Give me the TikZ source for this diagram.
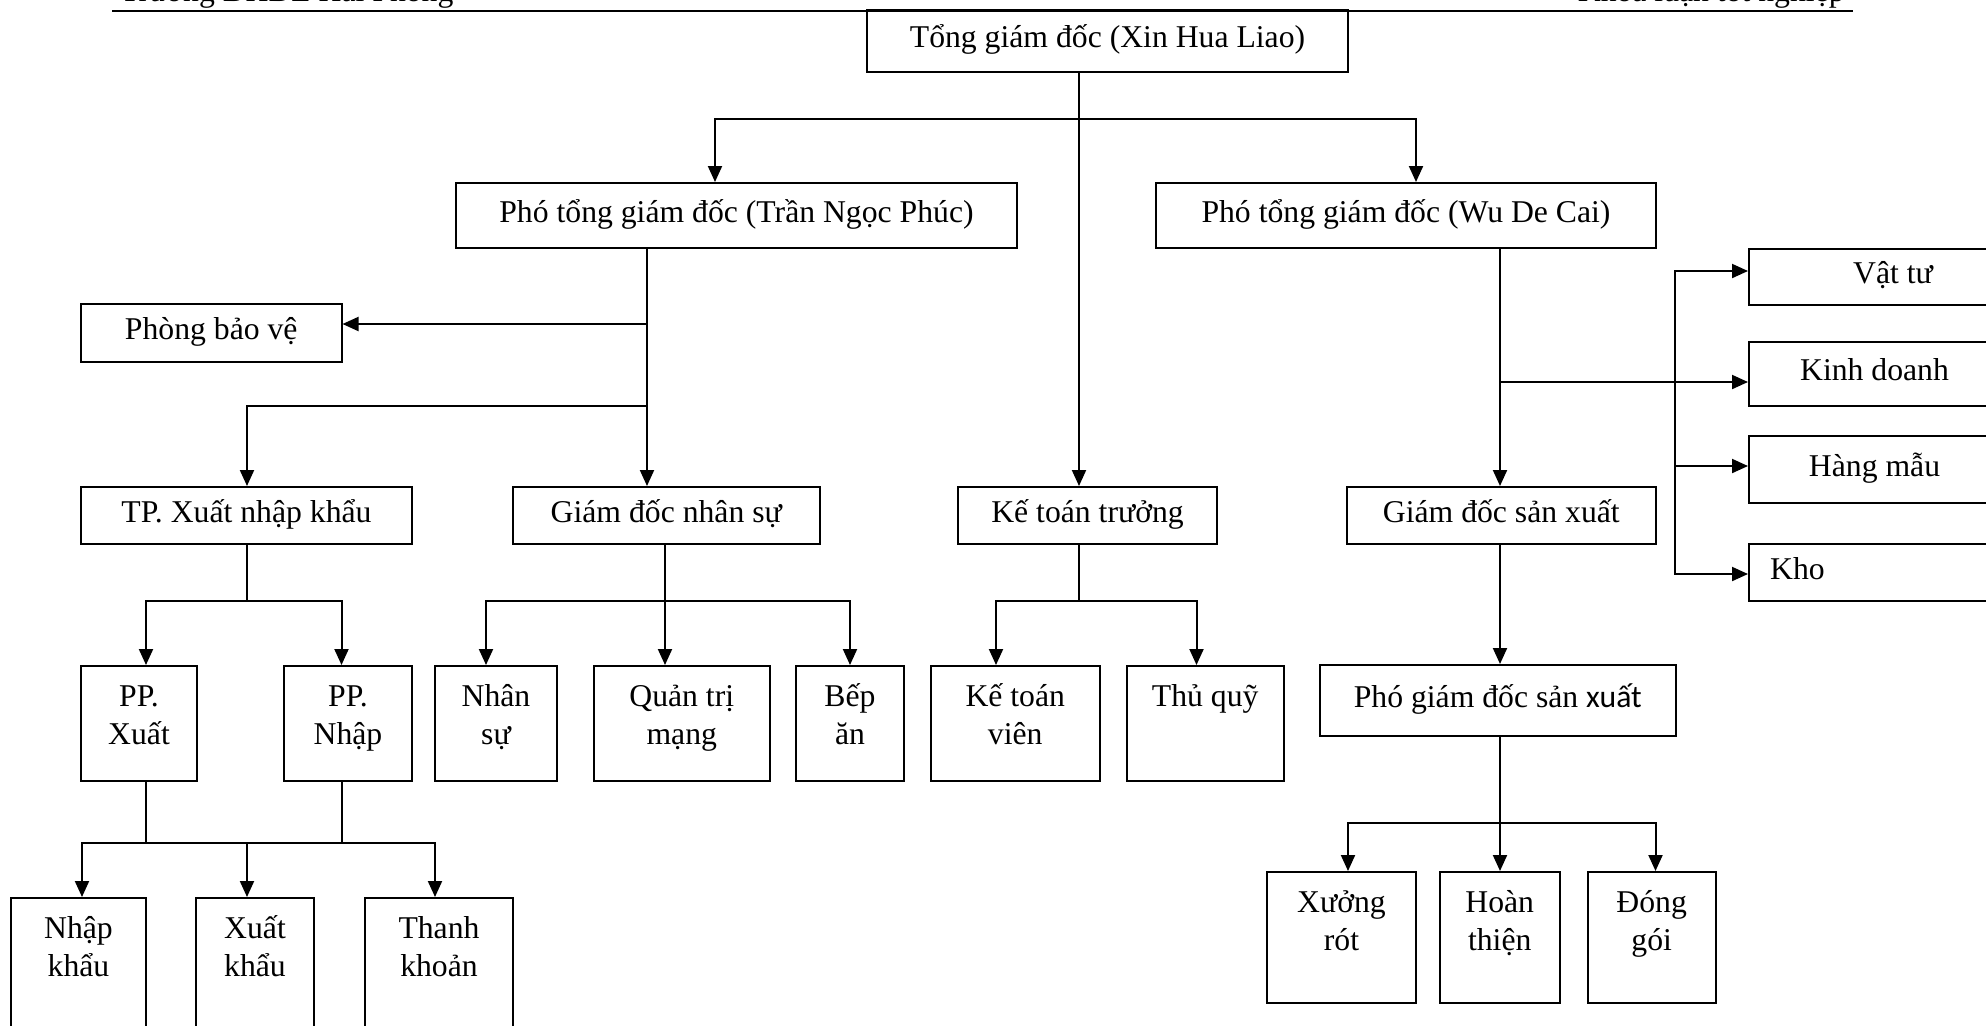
\documentclass[tikz,border=0pt]{standalone}
\usepackage{fontspec}
\setmainfont{Liberation Serif}
\newfontfamily\xsans{Carlito}
\usetikzlibrary{arrows.meta}
\newcommand\cellstack[1]{\begin{tabular}[t]{@{}c@{}}#1\end{tabular}}
\begin{document}
\begin{tikzpicture}[x=0.5pt, y=-0.5pt,
  font=\fontsize{15.85pt}{19pt}\selectfont,
  line/.style={line width=1pt},
  arr/.style={line width=1pt, -{Triangle[length=8pt,width=7pt]}},
  cell/.style={draw, line width=1pt, inner sep=0pt, text height=0.9em, text depth=0.24em},
  tall/.style={draw, line width=1pt, inner sep=0pt, anchor=north, text height=20pt},
]
\begin{scope}
\clip (0,0) rectangle (1986,1025);

% page header
\node[anchor=base west, inner sep=0pt] (hdrl) at (120,1) {Trường ĐHDL Hải Phòng};
\node[anchor=base east, inner sep=0pt] (hdrr) at (1845,1) {Khoá luận tốt nghiệp};
\coordinate (h1) at (112,10.5);
\coordinate (h2) at (1853,10.5);
\draw[line] (h1) -- (h2);

% management levels
\node[cell, minimum width=240.5pt, minimum height=31pt] (tgd) at (1107.5,41) {Tổng giám đốc (Xin Hua Liao)};
\node[cell, minimum width=280.5pt, minimum height=32.5pt] (ptgd1) at (736.5,215.5) {Phó tổng giám đốc (Trần Ngọc Phúc)};
\node[cell, minimum width=250pt, minimum height=32.5pt] (ptgd2) at (1406,215.5) {Phó tổng giám đốc (Wu De Cai)};
\node[cell, minimum width=130.25pt, minimum height=29pt] (pbv) at (211.25,333) {Phòng bảo vệ};
\node[cell, minimum width=165.5pt, minimum height=28.5pt] (tp) at (246.5,515.5) {TP. Xuất nhập khẩu};
\node[cell, minimum width=153.25pt, minimum height=28.5pt] (gdns) at (666.25,515.5) {Giám đốc nhân sự};
\node[cell, minimum width=129.5pt, minimum height=28.5pt] (ktt) at (1087.5,515.5) {Kế toán trưởng};
\node[cell, minimum width=154.3pt, minimum height=28.5pt] (gdsx) at (1501.3,515.5) {Giám đốc sản xuất};

% departments on the right
\node[cell, minimum width=125.5pt, minimum height=28pt] (vattu) at (1874.5,277) {\hspace*{18.5pt}Vật tư};
\node[cell, minimum width=125.5pt, minimum height=31.85pt] (kinhdoanh) at (1874.5,373.85) {Kinh doanh};
\node[cell, minimum width=125.5pt, minimum height=33.5pt] (hangmau) at (1874.5,469.5) {Hàng mẫu};
\node[cell, minimum width=125.5pt, minimum height=28.5pt] (kho) at (1874.5,572.5) {Kho\hspace*{77pt}};

% third level
\node[tall, minimum width=58pt, text depth=37.5pt] (ppx) at (139,665) {\cellstack{PP.\\Xuất}};
\node[tall, minimum width=64pt, text depth=37.5pt] (ppn) at (348,665) {\cellstack{PP.\\Nhập}};
\node[tall, minimum width=61pt, text depth=37.5pt] (nhansu) at (496,665) {\cellstack{Nhân\\sự}};
\node[tall, minimum width=87.75pt, text depth=37.5pt] (qtm) at (681.75,665) {\cellstack{Quản trị\\mạng}};
\node[tall, minimum width=54pt, text depth=37.5pt] (bep) at (850,665) {\cellstack{Bếp\\ăn}};
\node[tall, minimum width=84.25pt, text depth=37.5pt] (ktv) at (1015.25,665) {\cellstack{Kế toán\\viên}};
\node[tall, minimum width=78.75pt, text depth=37.5pt] (tq) at (1205.25,665) {\cellstack{Thủ quỹ}};
\node[cell, minimum width=177.8pt, minimum height=35.5pt] (pgdsx) at (1497.8,700.5) {Phó giám đốc sản {\xsans xuất}};

% bottom level
\node[tall, minimum width=67.5pt, text depth=51.5pt] (nk) at (78.5,897) {\cellstack{Nhập\\khẩu}};
\node[tall, minimum width=59pt, text depth=51.5pt] (xk) at (255,897) {\cellstack{Xuất\\khẩu}};
\node[tall, minimum width=74pt, text depth=51.5pt] (thk) at (439,897) {\cellstack{Thanh\\khoản}};
\node[tall, minimum width=74.5pt, text depth=45.5pt] (xr) at (1341.5,871) {\cellstack{Xưởng\\rót}};
\node[tall, minimum width=60.25pt, text depth=45.5pt] (ht) at (1499.75,871) {\cellstack{Hoàn\\thiện}};
\node[tall, minimum width=64.1pt, text depth=45.5pt] (dg) at (1651.7,871) {\cellstack{Đóng\\gói}};

% general director
\coordinate (c0) at (1079,119);
\coordinate (c1) at (715,119);
\coordinate (c2) at (1416,119);
\draw[arr] (tgd.south -| c0) -- (ktt.north -| c0);
\draw[arr] (c0) -- (c1) -- (c1 |- ptgd1.north);
\draw[arr] (c0) -- (c2) -- (c2 |- ptgd2.north);

% first deputy
\coordinate (l0) at (647,324);
\coordinate (l1) at (647,406);
\coordinate (l2) at (247,406);
\draw[arr] (ptgd1.south -| l0) -- (gdns.north -| l0);
\draw[arr] (l0) -- (l0 -| pbv.east);
\draw[arr] (l1) -- (l2) -- (l2 |- tp.north);

% import-export
\coordinate (t0) at (247,601);
\coordinate (t1) at (146,601);
\coordinate (t2) at (341.5,601);
\draw[line] (tp.south -| t0) -- (t0);
\draw[arr] (t0) -- (t1) -- (t1 |- ppx.north);
\draw[arr] (t0) -- (t2) -- (t2 |- ppn.north);

\coordinate (p1) at (146,843);
\coordinate (p2) at (341.5,843);
\coordinate (q1) at (82,843);
\coordinate (q2) at (247,843);
\coordinate (q3) at (435,843);
\draw[line] (ppx.south -| p1) -- (p1);
\draw[line] (ppn.south -| p2) -- (p2);
\draw[arr] (q2) -- (q1) -- (q1 |- nk.north);
\draw[arr] (q2) -- (q3) -- (q3 |- thk.north);
\draw[arr] (q2) -- (q2 |- xk.north);

% personnel
\coordinate (g0) at (665,601);
\coordinate (g1) at (486,601);
\coordinate (g2) at (850,601);
\draw[arr] (gdns.south -| g0) -- (qtm.north -| g0);
\draw[arr] (g0) -- (g1) -- (g1 |- nhansu.north);
\draw[arr] (g0) -- (g2) -- (g2 |- bep.north);

% accounting
\coordinate (k0) at (1079,601);
\coordinate (k1) at (996,601);
\coordinate (k2) at (1196.5,601);
\draw[line] (ktt.south -| k0) -- (k0);
\draw[arr] (k0) -- (k1) -- (k1 |- ktv.north);
\draw[arr] (k0) -- (k2) -- (k2 |- tq.north);

% second deputy
\coordinate (r0) at (1500,382);
\draw[arr] (ptgd2.south -| r0) -- (gdsx.north -| r0);
\draw[arr] (r0) -- (r0 -| kinhdoanh.west);
\coordinate (s1) at (1675,271);
\coordinate (s2) at (1675,466);
\coordinate (s3) at (1675,574);
\draw[arr] (s2) -- (s1) -- (s1 -| vattu.west);
\draw[arr] (s2) -- (s3) -- (s3 -| kho.west);
\draw[arr] (s2) -- (s2 -| hangmau.west);

% production
\draw[arr] (gdsx.south -| r0) -- (pgdsx.north -| r0);
\coordinate (m0) at (1500,823);
\coordinate (m1) at (1348,823);
\coordinate (m2) at (1655.5,823);
\draw[arr] (pgdsx.south -| r0) -- (ht.north -| r0);
\draw[arr] (m0) -- (m1) -- (m1 |- xr.north);
\draw[arr] (m0) -- (m2) -- (m2 |- dg.north);
\end{scope}
\pgfresetboundingbox
\useasboundingbox (0,0) rectangle (1986,1025);
\end{tikzpicture}
\end{document}
